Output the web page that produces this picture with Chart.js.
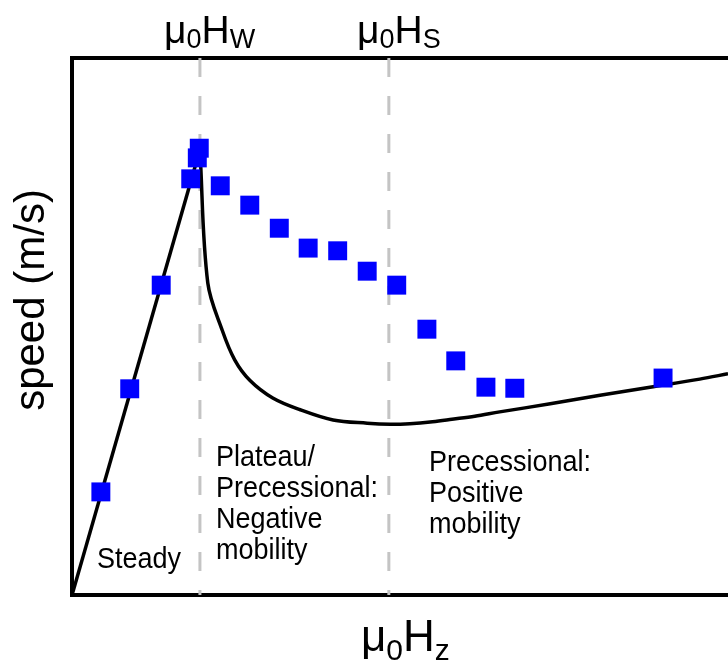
<!DOCTYPE html>
<html>
<head>
<meta charset="utf-8">
<script src="https://cdn.jsdelivr.net/npm/chart.js@4.4.1/dist/chart.umd.min.js"></script>
<style>
  html, body { margin: 0; padding: 0; background: #fff; overflow: hidden; }
  canvas { display: block; }
</style>
</head>
<body>
<canvas id="chart" width="728" height="666"></canvas>
<script>
// measured speed vs field (arbitrary units, 0..100 on both axes)
const measX = [4.4, 8.8, 13.6, 18.1, 19.1, 19.4, 22.6, 27.1, 31.6, 36.0, 40.5, 45.0, 49.5, 54.1, 58.5, 63.1, 67.5, 90.1];
const measY = [19.2, 38.4, 57.7, 77.5, 81.4, 83.2, 76.2, 72.6, 68.3, 64.6, 64.1, 60.3, 57.7, 49.5, 43.6, 38.7, 38.5, 40.4];

// 1D model: steady branch (straight) and precessional branch
const steadyX = [0, 19.5];
const steadyY = [0, 82.9];
const precX = [19.5, 20.7, 22.9, 24.8, 27.1, 30.6, 34.8, 39.8, 45.0, 48.5, 51.5, 54.6, 57.6, 61.4, 65.2, 72.9, 80.5, 88.1, 95.7, 100];
const precY = [82.9, 58.1, 49.3, 43.8, 40.0, 36.7, 34.5, 32.6, 32.0, 31.8, 31.9, 32.2, 32.7, 33.3, 34.1, 35.6, 37.2, 38.7, 40.2, 41.2];

// Walker field and saturation field positions
const fieldHW = 19.5;
const fieldHS = 48.3;

const FONT = '"Liberation Sans", Arial, sans-serif';

const toPoints = (xs, ys) => xs.map((x, i) => ({ x, y: ys[i] }));

const dashedLine = (x) => ({
    data: [{ x, y: 100 }, { x, y: 0 }],
    showLine: true,
    borderColor: '#c4c4c4',
    borderWidth: 3,
    borderDash: [19, 19],
    pointRadius: 0
});

// draws a label with sub-scripts: parts = [text, size, dy]
function drawParts(ctx, x, y, parts, sx) {
    let cx = x;
    parts.forEach(([txt, size, dy]) => {
        ctx.save();
        ctx.font = size + 'px ' + FONT;
        ctx.translate(cx, y + dy);
        ctx.scale(sx, 1);
        ctx.fillText(txt, 0, 0);
        cx += ctx.measureText(txt).width * sx;
        ctx.restore();
    });
}

const labelsPlugin = {
    id: 'labels',
    afterDraw(chart) {
        const ctx = chart.ctx;
        ctx.save();
        ctx.fillStyle = '#000';
        ctx.textBaseline = 'alphabetic';
        ctx.textAlign = 'left';

        // y axis title
        ctx.save();
        ctx.translate(44, 300);
        ctx.rotate(-Math.PI / 2);
        ctx.textAlign = 'center';
        ctx.font = '42px ' + FONT;
        ctx.fillText('speed (m/s)', 0, 0);
        ctx.restore();

        // field markers on top
        drawParts(ctx, 164, 43, [['\u03bc', 39, 0], ['0', 27, 5], ['H', 39, 0], ['W', 27, 5]], 1);
        drawParts(ctx, 357, 43, [['\u03bc', 39, 0], ['0', 27, 5], ['H', 39, 0], ['S', 27, 5]], 1);

        // x axis title
        drawParts(ctx, 361, 651, [['\u03bc', 44, 0], ['0', 30, 9], ['H', 44, 0], ['z', 30, 9]], 1);

        // regime annotations
        const sq = 0.9;
        drawParts(ctx, 97, 568, [['Steady', 30, 0]], sq);
        ['Plateau/', 'Precessional:', 'Negative', 'mobility'].forEach((t, i) => {
            drawParts(ctx, 216, 466 + i * 31, [[t, 30, 0]], sq);
        });
        ['Precessional:', 'Positive', 'mobility'].forEach((t, i) => {
            drawParts(ctx, 429, 471 + i * 31, [[t, 30, 0]], sq);
        });
        ctx.restore();
    }
};

const axisOpts = (position, horizontal) => ({
    type: 'linear',
    position,
    min: 0,
    max: 100,
    ticks: { display: false },
    grid: { display: false },
    border: { display: true, color: '#000', width: 4 },
    afterFit(scale) {
        if (horizontal) scale.height = 0; else scale.width = 0;
    }
});

new Chart(document.getElementById('chart'), {
    type: 'scatter',
    data: {
        datasets: [
            {
                data: toPoints(measX, measY),
                pointStyle: 'rect',
                pointRadius: 13.4,
                pointBorderWidth: 0,
                backgroundColor: '#0000ff',
                borderColor: '#0000ff'
            },
            {
                data: toPoints(steadyX, steadyY),
                showLine: true,
                borderColor: '#000',
                borderWidth: 3.5,
                pointRadius: 0
            },
            {
                data: toPoints(precX, precY),
                showLine: true,
                borderColor: '#000',
                borderWidth: 3.5,
                tension: 0.35,
                pointRadius: 0
            },
            dashedLine(fieldHW),
            dashedLine(fieldHS)
        ]
    },
    options: {
        responsive: false,
        devicePixelRatio: 1,
        animation: false,
        layout: { autoPadding: false, padding: { left: 72, top: 58, right: 0, bottom: 71 } },
        plugins: { legend: { display: false }, tooltip: { enabled: false } },
        scales: {
            x: axisOpts('bottom', true),
            x2: axisOpts('top', true),
            y: axisOpts('left', false)
        }
    },
    plugins: [labelsPlugin]
});
</script>
</body>
</html>
